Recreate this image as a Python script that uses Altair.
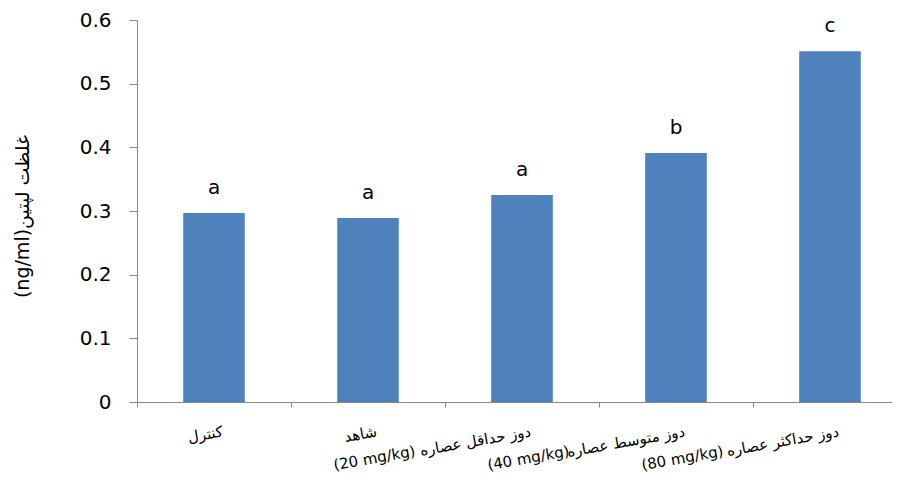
import altair as alt
import pandas as pd

categories = ["کنترل", "شاهد", "دوز حداقل عصاره", "دوز متوسط عصاره", "دوز حداکثر عصاره"]
doses = ["", "", "(20 mg/kg)", "(40 mg/kg)", "(80 mg/kg)"]
leptin = [0.297, 0.289, 0.325, 0.391, 0.551]
letters = ["a", "a", "a", "b", "c"]
y_ticks = [0, 0.1, 0.2, 0.3, 0.4, 0.5, 0.6]

df = pd.DataFrame({"cat": categories, "dose": doses, "value": leptin, "letter": letters})

FONT = "DejaVu Sans"
W, H = 770, 382
AX = "#868686"

xscale = alt.Scale(paddingInner=0, paddingOuter=0)
x = alt.X(
    "cat:N", sort=categories, title=None, scale=xscale,
    axis=alt.Axis(labelAngle=350, labelAlign="right", labelBaseline="top",
                  labelFontSize=15, labelFont=FONT, labelColor="black",
                  labelPadding=17, labelOffset=7, tickSize=5, tickBand="extent",
                  domainColor=AX, tickColor=AX, labelLimit=0),
)
y = alt.Y(
    "value:Q", title="(ng/ml)غلظت لپتین",
    scale=alt.Scale(domain=[0, 0.6], nice=False),
    axis=alt.Axis(values=y_ticks, format=".1~f", grid=False,
                  labelFontSize=20, labelFont=FONT, labelColor="black",
                  labelPadding=18, tickSize=8, domainColor=AX, tickColor=AX,
                  titleFont=FONT, titleFontSize=19, titleFontWeight="normal",
                  titleColor="black", titleAngle=270, titleX=-115, titleY=196,
                  titleAlign="center", titleBaseline="middle"),
)

bars = alt.Chart(df).mark_bar(color="#4F81BD", width=alt.RelativeBandSize(0.4)).encode(x=x, y=y)
lets = alt.Chart(df).mark_text(dy=-19, baseline="alphabetic", fontSize=20,
                               font=FONT, color="black").encode(
    x=alt.X("cat:N", sort=categories), y="value:Q", text="letter:N")
dose = alt.Chart(df).mark_text(angle=350, align="right", baseline="top", dx=-110, dy=2,
                               fontSize=15, font=FONT, color="black").encode(
    x=alt.X("cat:N", sort=categories), y=alt.value(H + 21), text="dose:N")

chart = alt.layer(bars, lets, dose).properties(
    width=W, height=H,
    autosize=alt.AutoSizeParams(type="none"),
    padding={"left": 129, "top": 12, "right": -15, "bottom": 72},
).configure_view(stroke=None)

chart.save("out.html", embed_options={"renderer": "svg", "actions": False})
